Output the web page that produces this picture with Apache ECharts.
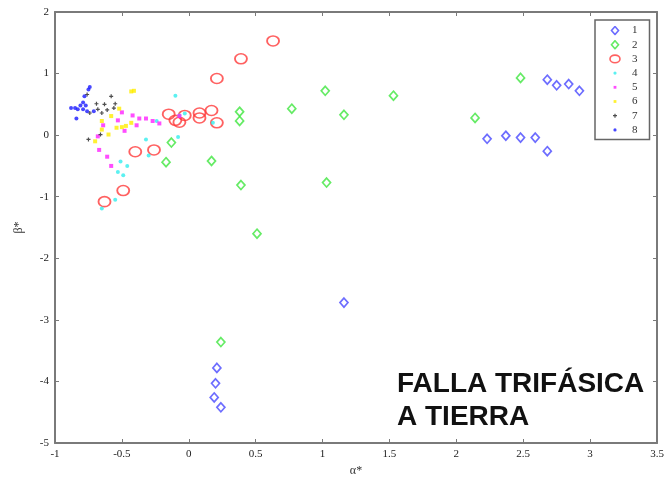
<!DOCTYPE html>
<html>
<head>
<meta charset="utf-8">
<script src="https://cdn.jsdelivr.net/npm/echarts@6/dist/echarts.min.js"></script>
<style>
html,body{margin:0;padding:0;background:#fff;}
#chart{width:667px;height:482px;}
</style>
</head>
<body>
<div id="chart"></div>
<script>
// ---- data ----
const seriesNames = ['1','2','3','4','5','6','7','8'];
const xTicks = ['-1','-0.5','0','0.5','1','1.5','2','2.5','3','3.5'];
const yTicks = ['-5','-4','-3','-2','-1','0','1','2'];

const s1 = [[2.68,0.90],[2.75,0.81],[2.84,0.83],[2.92,0.72],
            [2.23,-0.06],[2.37,-0.01],[2.48,-0.04],[2.59,-0.04],[2.68,-0.26],
            [1.16,-2.72],[0.21,-3.78],[0.20,-4.03],[0.19,-4.26],[0.24,-4.42]];
const s2 = [[2.48,0.93],[2.14,0.28],[1.53,0.64],[1.02,0.72],[1.16,0.33],
            [0.77,0.43],[0.38,0.38],[0.38,0.23],[0.17,-0.42],[0.39,-0.81],
            [1.03,-0.77],[0.51,-1.60],[0.24,-3.36],[-0.13,-0.12],[-0.17,-0.44]];
const s3 = [[0.63,1.53],[0.39,1.24],[0.21,0.92],
            [-0.15,0.34],[-0.10,0.24],[-0.07,0.21],[-0.03,0.32],
            [0.08,0.36],[0.08,0.28],[0.17,0.40],[0.21,0.20],
            [-0.40,-0.27],[-0.26,-0.24],[-0.49,-0.90],[-0.63,-1.08]];
const s4 = [[-0.10,0.64],[-0.24,0.23],[-0.07,0.32],[-0.03,0.35],[0.18,0.20],
            [-0.08,-0.03],[-0.32,-0.07],[-0.30,-0.33],[-0.51,-0.43],[-0.46,-0.50],
            [-0.53,-0.60],[-0.49,-0.65],[-0.55,-1.05],[-0.65,-1.19]];
const s5 = [[-0.50,0.37],[-0.42,0.32],[-0.53,0.24],[-0.37,0.27],[-0.32,0.27],
            [-0.27,0.23],[-0.22,0.19],[-0.39,0.16],[-0.48,0.07],[-0.64,0.16],
            [-0.68,-0.02],[-0.67,-0.24],[-0.61,-0.35],[-0.58,-0.50],[-0.07,0.31]];
const s6 = [[-0.43,0.71],[-0.41,0.72],[-0.52,0.43],[-0.54,0.12],[-0.60,0.01],
            [-0.70,-0.10],[-0.65,0.09],[-0.47,0.15],[-0.43,0.20],[-0.58,0.31],
            [-0.65,0.23],[-0.50,0.13]];
const s7 = [[-0.58,0.63],[-0.76,0.66],[-0.69,0.51],[-0.63,0.50],[-0.55,0.51],
            [-0.68,0.42],[-0.61,0.41],[-0.56,0.44],[-0.75,-0.07],[-0.74,0.36],
            [-0.65,0.36],[-0.66,0.01]];
const s8 = [[-0.74,0.78],[-0.75,0.74],[-0.78,0.63],[-0.79,0.53],[-0.81,0.48],
            [-0.85,0.44],[-0.88,0.44],[-0.83,0.42],[-0.79,0.42],[-0.76,0.39],
            [-0.84,0.27],[-0.71,0.39],[-0.77,0.48]];

const allData = [s1,s2,s3,s4,s5,s6,s7,s8];
const colors = ['#4848ff','#3ee63e','#ff3a3a','#33eeee','#ff22ff','#ffee00','#222222','#1a1aff'];
const symbols = ['diamond','diamond','circle','circle','rect','rect','path://M0,4H8M4,0V8','circle'];
const sizes = [[8,9],[8,9],[12,10],4,4,4,4,4];
const hollow = [true,true,true,false,false,false,false,false];

// legend icons (small SVG images, 14x10)
function svgIcon(inner){
  const s = '<svg xmlns="http://www.w3.org/2000/svg" width="14" height="10" viewBox="0 0 14 10">'+inner+'</svg>';
  return 'image://data:image/svg+xml;charset=utf-8,' + encodeURIComponent(s);
}
const legendIcons = [
  svgIcon('<polygon points="7,1 10.5,5 7,9 3.5,5" fill="none" stroke="'+colors[0]+'" stroke-width="1.6"/>'),
  svgIcon('<polygon points="7,1 10.5,5 7,9 3.5,5" fill="none" stroke="'+colors[1]+'" stroke-width="1.6"/>'),
  svgIcon('<ellipse cx="7" cy="5" rx="5" ry="3.8" fill="none" stroke="'+colors[2]+'" stroke-width="1.6"/>'),
  svgIcon('<circle cx="7" cy="5" r="1.6" fill="'+colors[3]+'"/>'),
  svgIcon('<rect x="5.6" y="3.6" width="2.8" height="2.8" fill="'+colors[4]+'"/>'),
  svgIcon('<rect x="5.6" y="3.6" width="2.8" height="2.8" fill="'+colors[5]+'"/>'),
  svgIcon('<path d="M5,5H9M7,3V7" stroke="'+colors[6]+'" stroke-width="1.2"/>'),
  svgIcon('<circle cx="7" cy="5" r="1.6" fill="'+colors[7]+'"/>')
];

const chart = echarts.init(document.getElementById('chart'), null, {renderer:'canvas'});
const axisGray = '#7a7a7a';
const labelFont = {color:'#222', fontFamily:'"Liberation Serif", serif', fontSize:11};

const series = allData.map((d,i)=>({
  name: seriesNames[i],
  type:'scatter',
  data: d,
  symbol: symbols[i],
  symbolSize: sizes[i],
  itemStyle: hollow[i]
    ? {color:'rgba(255,255,255,0)', borderColor:colors[i], borderWidth:1.7}
    : (i===6 ? {color:colors[i], borderColor:colors[i], borderWidth:1.2} : {color:colors[i]}),
  emphasis:{disabled:true},
  xAxisIndex:0, yAxisIndex:0
}));

chart.setOption({
  animation:false,
  backgroundColor:'#fff',
  grid:{left:55,right:10,top:12,bottom:37,containLabel:false},
  legend:{
    data: seriesNames.map((n,i)=>({name:n, icon:legendIcons[i]})),
    orient:'vertical',
    left:595, top:20,
    padding:[5,12,4,13],
    itemWidth:14, itemHeight:10, itemGap:3.2,
    backgroundColor:'#fff',
    borderColor:'#666', borderWidth:1.5,
    textStyle:{color:'#333', fontFamily:'"Liberation Serif", serif', fontSize:11, padding:[0,0,0,5]},
    selectedMode:false
  },
  xAxis:[{
    type:'value', min:-1, max:3.5, interval:0.5,
    name:'α*', nameLocation:'middle', nameGap:22,
    nameTextStyle:{color:'#333', fontFamily:'"Liberation Serif", serif', fontSize:12},
    axisLine:{show:true, onZero:false, lineStyle:{color:axisGray, width:2}},
    axisTick:{show:true, inside:true, length:4, lineStyle:{color:axisGray}},
    axisLabel:{...labelFont, margin:6, formatter:(v)=>xTicks[Math.round((v+1)/0.5)]},
    splitLine:{show:false}
  },{
    type:'value', min:-1, max:3.5, interval:0.5, position:'top',
    axisLine:{show:true, onZero:false, lineStyle:{color:axisGray, width:2}},
    axisTick:{show:true, inside:true, length:4, lineStyle:{color:axisGray}},
    axisLabel:{show:false}, splitLine:{show:false}
  }],
  yAxis:[{
    type:'value', min:-5, max:2, interval:1,
    name:'β*', nameLocation:'middle', nameGap:30, nameRotate:90,
    nameTextStyle:{color:'#333', fontFamily:'"Liberation Serif", serif', fontSize:12},
    axisLine:{show:true, onZero:false, lineStyle:{color:axisGray, width:2}},
    axisTick:{show:true, inside:true, length:4, lineStyle:{color:axisGray}},
    axisLabel:{...labelFont, margin:6, formatter:(v)=>yTicks[Math.round(v+5)]},
    splitLine:{show:false}
  },{
    type:'value', min:-5, max:2, interval:1, position:'right',
    axisLine:{show:true, onZero:false, lineStyle:{color:axisGray, width:2}},
    axisTick:{show:true, inside:true, length:4, lineStyle:{color:axisGray}},
    axisLabel:{show:false}, splitLine:{show:false}
  }],
  graphic:[{
    type:'text', left:397, top:368, z:100,
    style:{
      text:'FALLA TRIFÁSICA\nA TIERRA',
      font:'bold 28px "Liberation Sans", Arial, sans-serif',
      lineHeight:33,
      fill:'#111'
    }
  }],
  series: series
});
</script>
</body>
</html>
